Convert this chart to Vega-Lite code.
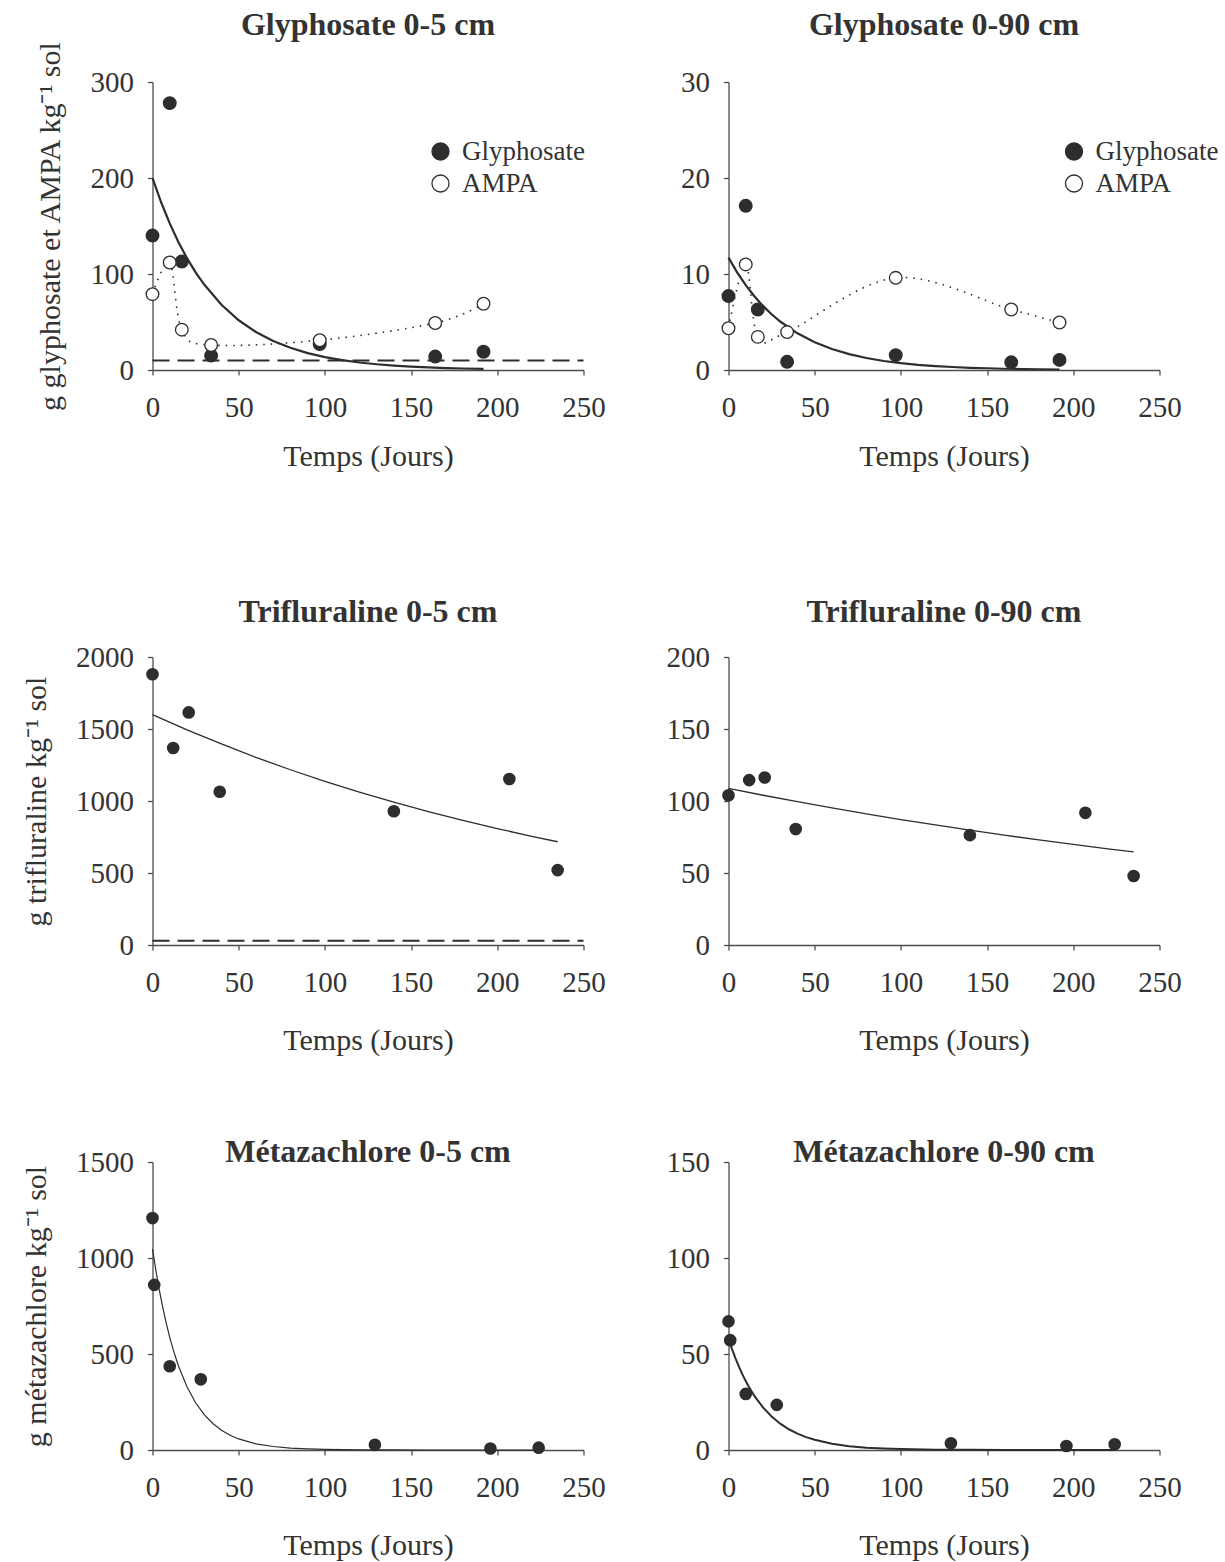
{
  "$schema": "https://vega.github.io/schema/vega-lite/v6.json",
  "background": "white",
  "padding": {"left": 20.5, "top": 9, "right": 5, "bottom": 5},
  "config": {
    "font": "Liberation Serif",
    "view": {"stroke": null},
    "axis": {"grid": false, "domainColor": "#4d4d4d", "domainWidth": 1.3, "tickColor": "#4d4d4d", "tickWidth": 1.3, "tickSize": 5, "labelFont": "Liberation Serif", "labelFontSize": 29, "labelColor": "#333333", "titleFont": "Liberation Serif", "titleFontSize": 30, "titleFontWeight": "normal", "titleColor": "#333333", "labelFlush": false, "labelOverlap": false, "format": "d"},
    "axisX": {"labelPadding": 18, "titlePadding": 28, "labelAngle": 0},
    "axisY": {"labelPadding": 14, "titlePadding": 24.5},
    "title": {"font": "Liberation Serif", "fontSize": 32, "fontWeight": "bold", "color": "#333333", "anchor": "middle", "frame": "group", "baseline": "alphabetic"},
    "legend": {"symbolType": "circle", "symbolSize": 290, "symbolStrokeColor": "#2d2d2d", "symbolStrokeWidth": 1.3, "symbolOpacity": 1, "labelFont": "Liberation Serif", "labelFontSize": 27, "labelColor": "#333333", "labelOffset": 8, "rowPadding": 4, "padding": 0}
  },
  "datasets": {
    "g5_pts": [
      {"day": 0, "value": 140, "series": "Glyphosate"}, {"day": 10, "value": 278, "series": "Glyphosate"}, {"day": 17, "value": 113, "series": "Glyphosate"}, {"day": 34, "value": 15, "series": "Glyphosate"}, {"day": 97, "value": 27, "series": "Glyphosate"}, {"day": 164, "value": 14, "series": "Glyphosate"}, {"day": 192, "value": 19, "series": "Glyphosate"},
      {"day": 0, "value": 79, "series": "AMPA"}, {"day": 10, "value": 112, "series": "AMPA"}, {"day": 17, "value": 42, "series": "AMPA"}, {"day": 34, "value": 26, "series": "AMPA"}, {"day": 97, "value": 31, "series": "AMPA"}, {"day": 164, "value": 49, "series": "AMPA"}, {"day": 192, "value": 69, "series": "AMPA"}
    ],
    "g5_fit": [
      {"day": 0, "value": 200}, {"day": 5, "value": 174.7}, {"day": 10, "value": 152.7}, {"day": 15, "value": 133.4}, {"day": 20, "value": 116.5}, {"day": 25, "value": 101.8}, {"day": 30, "value": 89.0}, {"day": 40, "value": 67.9}, {"day": 50, "value": 51.8}, {"day": 60, "value": 39.6}, {"day": 70, "value": 30.2}, {"day": 80, "value": 23.1}, {"day": 90, "value": 17.6}, {"day": 100, "value": 13.4}, {"day": 110, "value": 10.3}, {"day": 120, "value": 7.8}, {"day": 130, "value": 6.0}, {"day": 140, "value": 4.6}, {"day": 150, "value": 3.5}, {"day": 160, "value": 2.7}, {"day": 170, "value": 2.0}, {"day": 180, "value": 1.55}, {"day": 192, "value": 1.1}
    ],
    "g5_lim": [{"day": 0, "day2": 250, "value": 10}],
    "g90_pts": [
      {"day": 0, "value": 7.7, "series": "Glyphosate"}, {"day": 10, "value": 17.1, "series": "Glyphosate"}, {"day": 17, "value": 6.3, "series": "Glyphosate"}, {"day": 34, "value": 0.85, "series": "Glyphosate"}, {"day": 97, "value": 1.55, "series": "Glyphosate"}, {"day": 164, "value": 0.8, "series": "Glyphosate"}, {"day": 192, "value": 1.05, "series": "Glyphosate"},
      {"day": 0, "value": 4.35, "series": "AMPA"}, {"day": 10, "value": 11.0, "series": "AMPA"}, {"day": 17, "value": 3.45, "series": "AMPA"}, {"day": 34, "value": 3.95, "series": "AMPA"}, {"day": 97, "value": 9.6, "series": "AMPA"}, {"day": 164, "value": 6.3, "series": "AMPA"}, {"day": 192, "value": 4.95, "series": "AMPA"}
    ],
    "g90_fit": [
      {"day": 0, "value": 11.7}, {"day": 5, "value": 10.17}, {"day": 10, "value": 8.84}, {"day": 15, "value": 7.69}, {"day": 20, "value": 6.68}, {"day": 25, "value": 5.81}, {"day": 30, "value": 5.05}, {"day": 40, "value": 3.82}, {"day": 50, "value": 2.89}, {"day": 60, "value": 2.18}, {"day": 70, "value": 1.65}, {"day": 80, "value": 1.25}, {"day": 90, "value": 0.94}, {"day": 100, "value": 0.71}, {"day": 110, "value": 0.54}, {"day": 120, "value": 0.41}, {"day": 130, "value": 0.31}, {"day": 140, "value": 0.23}, {"day": 150, "value": 0.18}, {"day": 160, "value": 0.13}, {"day": 170, "value": 0.1}, {"day": 180, "value": 0.08}, {"day": 192, "value": 0.05}
    ],
    "t5_pts": [
      {"day": 0, "value": 1880}, {"day": 12, "value": 1368}, {"day": 21, "value": 1615}, {"day": 39, "value": 1064}, {"day": 140, "value": 929}, {"day": 207, "value": 1153}, {"day": 235, "value": 520}
    ],
    "t5_fit": [
      {"day": 0, "value": 1600}, {"day": 20, "value": 1494}, {"day": 40, "value": 1396}, {"day": 60, "value": 1303}, {"day": 80, "value": 1217}, {"day": 100, "value": 1137}, {"day": 120, "value": 1062}, {"day": 140, "value": 992}, {"day": 160, "value": 926}, {"day": 180, "value": 865}, {"day": 200, "value": 808}, {"day": 220, "value": 755}, {"day": 235, "value": 717}
    ],
    "t5_lim": [{"day": 0, "day2": 250, "value": 30}],
    "t90_pts": [
      {"day": 0, "value": 104}, {"day": 12, "value": 114.5}, {"day": 21, "value": 116.3}, {"day": 39, "value": 80.5}, {"day": 140, "value": 76.3}, {"day": 207, "value": 91.8}, {"day": 235, "value": 47.9}
    ],
    "t90_fit": [
      {"day": 0, "value": 108.7}, {"day": 20, "value": 104.0}, {"day": 40, "value": 99.5}, {"day": 60, "value": 95.2}, {"day": 80, "value": 91.1}, {"day": 100, "value": 87.1}, {"day": 120, "value": 83.4}, {"day": 140, "value": 79.8}, {"day": 160, "value": 76.3}, {"day": 180, "value": 73.0}, {"day": 200, "value": 69.9}, {"day": 220, "value": 66.8}, {"day": 235, "value": 64.7}
    ],
    "m5_pts": [
      {"day": 0, "value": 1208}, {"day": 1, "value": 860}, {"day": 10, "value": 436}, {"day": 28, "value": 368}, {"day": 129, "value": 27}, {"day": 196, "value": 8}, {"day": 224, "value": 12}
    ],
    "m5_fit": [
      {"day": 0, "value": 1048}, {"day": 2, "value": 933}, {"day": 4, "value": 831}, {"day": 6, "value": 740}, {"day": 8, "value": 659}, {"day": 10, "value": 587}, {"day": 12, "value": 523}, {"day": 15, "value": 439}, {"day": 20, "value": 329}, {"day": 25, "value": 246}, {"day": 30, "value": 184}, {"day": 35, "value": 138}, {"day": 40, "value": 103}, {"day": 45, "value": 77}, {"day": 50, "value": 57.6}, {"day": 60, "value": 32.3}, {"day": 70, "value": 18.1}, {"day": 80, "value": 10.1}, {"day": 90, "value": 5.7}, {"day": 100, "value": 3.2}, {"day": 120, "value": 1.0}, {"day": 140, "value": 0.3}, {"day": 160, "value": 0.1}, {"day": 180, "value": 0.03}, {"day": 200, "value": 0.01}, {"day": 224, "value": 0}
    ],
    "m90_pts": [
      {"day": 0, "value": 67}, {"day": 1, "value": 57.2}, {"day": 10, "value": 29.2}, {"day": 28, "value": 23.5}, {"day": 129, "value": 3.5}, {"day": 196, "value": 2.1}, {"day": 224, "value": 3}
    ],
    "m90_fit": [
      {"day": 0, "value": 58}, {"day": 2, "value": 52.7}, {"day": 4, "value": 47.9}, {"day": 6, "value": 43.5}, {"day": 8, "value": 39.5}, {"day": 10, "value": 35.9}, {"day": 12, "value": 32.6}, {"day": 15, "value": 28.2}, {"day": 20, "value": 22.2}, {"day": 25, "value": 17.5}, {"day": 30, "value": 13.7}, {"day": 35, "value": 10.8}, {"day": 40, "value": 8.5}, {"day": 45, "value": 6.7}, {"day": 50, "value": 5.3}, {"day": 60, "value": 3.3}, {"day": 70, "value": 2.0}, {"day": 80, "value": 1.2}, {"day": 90, "value": 0.8}, {"day": 100, "value": 0.5}, {"day": 120, "value": 0.18}, {"day": 140, "value": 0.07}, {"day": 160, "value": 0.03}, {"day": 180, "value": 0.01}, {"day": 200, "value": 0}, {"day": 224, "value": 0}
    ]
  },
  "spacing": 80,
  "bounds": "full",
  "resolve": {"scale": {"x": "independent", "y": "independent"}},
  "vconcat": [
    {
      "hconcat": [
        {
          "width": 431, "height": 288,
          "title": {"text": "Glyphosate 0-5 cm", "offset": -2.3, "anchor": "middle"},
          "encoding": {
            "x": {"field": "day", "type": "quantitative", "scale": {"domain": [0, 250], "nice": false}, "axis": {"values": [0, 50, 100, 150, 200, 250], "title": ["Temps (Jours)", ""], "titleLineHeight": 45, "titlePadding": 19}},
            "y": {"field": "value", "type": "quantitative", "scale": {"domain": [0, 300], "nice": false}, "axis": {"values": [0, 100, 200, 300], "title": "g glyphosate et AMPA kg⁻¹ sol"}}
          },
          "layer": [
            {"data": {"name": "g5_fit"}, "mark": {"type": "line", "color": "#2d2d2d", "strokeWidth": 2.2}, "encoding": {}},
            {"data": {"name": "g5_lim"}, "mark": {"type": "rule", "color": "#2d2d2d", "strokeWidth": 2, "strokeDash": [17, 8]}, "encoding": {"x2": {"field": "day2"}}},
            {"data": {"name": "g5_pts"}, "transform": [{"filter": "datum.series === 'AMPA'"}], "mark": {"type": "line", "interpolate": "cardinal", "color": "#2d2d2d", "strokeWidth": 1.6, "strokeDash": [1.5, 6]}, "encoding": {}},
            {"data": {"name": "g5_pts"}, "mark": {"type": "point", "shape": "circle", "filled": true, "size": 160, "opacity": 1, "stroke": "#2d2d2d", "strokeWidth": 1.3},
             "encoding": {"fill": {"field": "series", "type": "nominal", "scale": {"domain": ["Glyphosate", "AMPA"], "range": ["#2d2d2d", "#ffffff"]}, "legend": {"title": null, "orient": "none", "legendX": 274.5, "legendY": 56}}}}
          ]
        },
        {
          "width": 431, "height": 288,
          "title": {"text": "Glyphosate 0-90 cm", "offset": 25.7, "anchor": "middle"},
          "encoding": {
            "x": {"field": "day", "type": "quantitative", "scale": {"domain": [0, 250], "nice": false}, "axis": {"values": [0, 50, 100, 150, 200, 250], "title": ["Temps (Jours)", ""], "titleLineHeight": 45, "titlePadding": 19}},
            "y": {"field": "value", "type": "quantitative", "scale": {"domain": [0, 30], "nice": false}, "axis": {"values": [0, 10, 20, 30], "title": null}}
          },
          "layer": [
            {"data": {"name": "g90_fit"}, "mark": {"type": "line", "color": "#2d2d2d", "strokeWidth": 2.2}, "encoding": {}},
            {"data": {"name": "g90_pts"}, "transform": [{"filter": "datum.series === 'AMPA'"}], "mark": {"type": "line", "interpolate": "cardinal", "color": "#2d2d2d", "strokeWidth": 1.6, "strokeDash": [1.5, 6]}, "encoding": {}},
            {"data": {"name": "g90_pts"}, "mark": {"type": "point", "shape": "circle", "filled": true, "size": 160, "opacity": 1, "stroke": "#2d2d2d", "strokeWidth": 1.3},
             "encoding": {"fill": {"field": "series", "type": "nominal", "scale": {"domain": ["Glyphosate", "AMPA"], "range": ["#2d2d2d", "#ffffff"]}, "legend": {"title": null, "orient": "none", "legendX": 332, "legendY": 56}}}}
          ]
        }
      ],
      "spacing": 145,
      "bounds": "flush",
      "resolve": {"scale": {"x": "independent", "y": "independent", "fill": "independent"}, "legend": {"fill": "independent"}}
    },
    {
      "hconcat": [
        {
          "width": 431, "height": 288,
          "title": {"text": "Trifluraline 0-5 cm", "offset": 14, "anchor": "middle"},
          "encoding": {
            "x": {"field": "day", "type": "quantitative", "scale": {"domain": [0, 250], "nice": false}, "axis": {"values": [0, 50, 100, 150, 200, 250], "title": "Temps (Jours)"}},
            "y": {"field": "value", "type": "quantitative", "scale": {"domain": [0, 2000], "nice": false}, "axis": {"values": [0, 500, 1000, 1500, 2000], "title": "g trifluraline kg⁻¹ sol"}}
          },
          "layer": [
            {"data": {"name": "t5_fit"}, "mark": {"type": "line", "color": "#2d2d2d", "strokeWidth": 1.3}, "encoding": {}},
            {"data": {"name": "t5_lim"}, "mark": {"type": "rule", "color": "#2d2d2d", "strokeWidth": 2, "strokeDash": [17, 8]}, "encoding": {"x2": {"field": "day2"}}},
            {"data": {"name": "t5_pts"}, "mark": {"type": "point", "shape": "circle", "filled": true, "size": 160, "opacity": 1, "color": "#2d2d2d"}, "encoding": {}}
          ]
        },
        {
          "width": 431, "height": 288,
          "title": {"text": "Trifluraline 0-90 cm", "offset": 14, "anchor": "middle"},
          "encoding": {
            "x": {"field": "day", "type": "quantitative", "scale": {"domain": [0, 250], "nice": false}, "axis": {"values": [0, 50, 100, 150, 200, 250], "title": "Temps (Jours)"}},
            "y": {"field": "value", "type": "quantitative", "scale": {"domain": [0, 200], "nice": false}, "axis": {"values": [0, 50, 100, 150, 200], "title": null}}
          },
          "layer": [
            {"data": {"name": "t90_fit"}, "mark": {"type": "line", "color": "#2d2d2d", "strokeWidth": 1.3}, "encoding": {}},
            {"data": {"name": "t90_pts"}, "mark": {"type": "point", "shape": "circle", "filled": true, "size": 160, "opacity": 1, "color": "#2d2d2d"}, "encoding": {}}
          ]
        }
      ],
      "spacing": 145,
      "bounds": "flush",
      "resolve": {"scale": {"x": "independent", "y": "independent"}}
    },
    {
      "hconcat": [
        {
          "width": 431, "height": 288,
          "title": {"text": "Métazachlore 0-5 cm", "offset": -20.5, "anchor": "middle"},
          "encoding": {
            "x": {"field": "day", "type": "quantitative", "scale": {"domain": [0, 250], "nice": false}, "axis": {"values": [0, 50, 100, 150, 200, 250], "title": "Temps (Jours)"}},
            "y": {"field": "value", "type": "quantitative", "scale": {"domain": [0, 1500], "nice": false}, "axis": {"values": [0, 500, 1000, 1500], "title": "g métazachlore kg⁻¹ sol"}}
          },
          "layer": [
            {"data": {"name": "m5_fit"}, "mark": {"type": "line", "color": "#2d2d2d", "strokeWidth": 1.2}, "encoding": {}},
            {"data": {"name": "m5_pts"}, "mark": {"type": "point", "shape": "circle", "filled": true, "size": 160, "opacity": 1, "color": "#2d2d2d"}, "encoding": {}}
          ]
        },
        {
          "width": 431, "height": 288,
          "title": {"text": "Métazachlore 0-90 cm", "offset": -20.5, "anchor": "middle"},
          "encoding": {
            "x": {"field": "day", "type": "quantitative", "scale": {"domain": [0, 250], "nice": false}, "axis": {"values": [0, 50, 100, 150, 200, 250], "title": "Temps (Jours)"}},
            "y": {"field": "value", "type": "quantitative", "scale": {"domain": [0, 150], "nice": false}, "axis": {"values": [0, 50, 100, 150], "title": null}}
          },
          "layer": [
            {"data": {"name": "m90_fit"}, "mark": {"type": "line", "color": "#2d2d2d", "strokeWidth": 2}, "encoding": {}},
            {"data": {"name": "m90_pts"}, "mark": {"type": "point", "shape": "circle", "filled": true, "size": 160, "opacity": 1, "color": "#2d2d2d"}, "encoding": {}}
          ]
        }
      ],
      "spacing": 145,
      "bounds": "flush",
      "resolve": {"scale": {"x": "independent", "y": "independent"}}
    }
  ]
}
